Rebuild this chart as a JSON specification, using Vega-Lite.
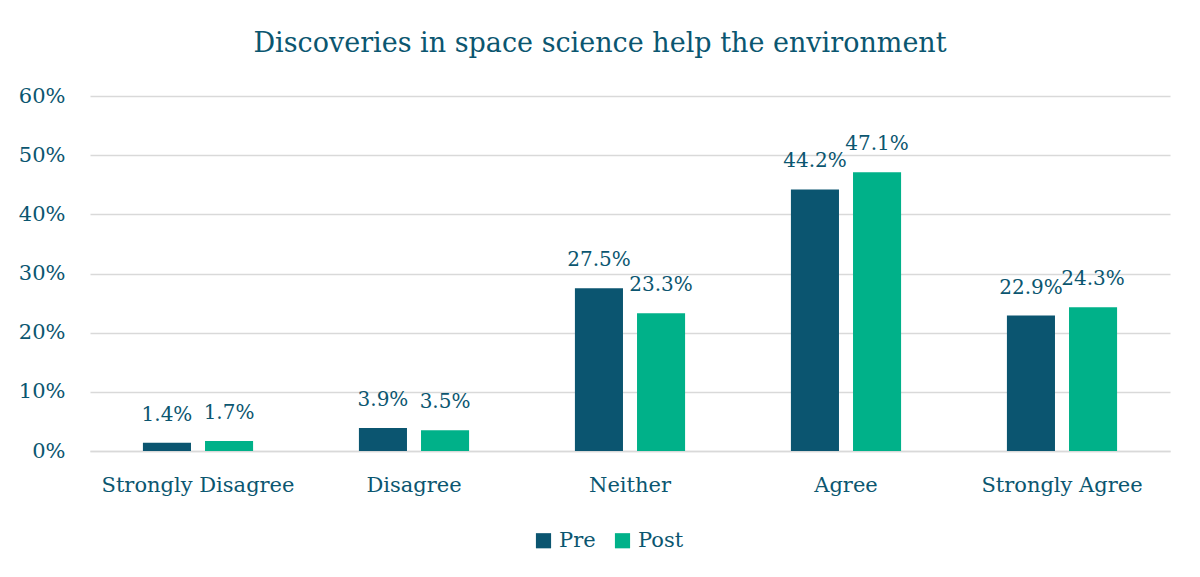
{
  "$schema": "https://vega.github.io/schema/vega-lite/v6.json",
  "width": 1080,
  "height": 355,
  "autosize": {"type": "none"},
  "padding": {"left": 90, "top": 96, "right": 30, "bottom": 126},
  "background": "white",
  "title": {
    "text": "Discoveries in space science help the environment",
    "font": "DejaVu Serif",
    "fontSize": 27,
    "fontWeight": "normal",
    "color": "#0B5670",
    "anchor": "middle",
    "dx": -30,
    "offset": 27
  },
  "data": {
    "values": [
      {"response": "Strongly Disagree", "group": "Pre", "value": 0.014},
      {"response": "Strongly Disagree", "group": "Post", "value": 0.017},
      {"response": "Disagree", "group": "Pre", "value": 0.039},
      {"response": "Disagree", "group": "Post", "value": 0.035},
      {"response": "Neither", "group": "Pre", "value": 0.275},
      {"response": "Neither", "group": "Post", "value": 0.233},
      {"response": "Agree", "group": "Pre", "value": 0.442},
      {"response": "Agree", "group": "Post", "value": 0.471},
      {"response": "Strongly Agree", "group": "Pre", "value": 0.229},
      {"response": "Strongly Agree", "group": "Post", "value": 0.243}
    ]
  },
  "encoding": {
    "x": {
      "field": "response",
      "type": "nominal",
      "sort": ["Strongly Disagree", "Disagree", "Neither", "Agree", "Strongly Agree"],
      "scale": {"paddingInner": 0.49, "paddingOuter": 0.245},
      "axis": {
        "title": null,
        "labelAngle": 0,
        "labelFont": "DejaVu Serif",
        "labelFontSize": 21,
        "labelColor": "#0B5670",
        "labelPadding": 23,
        "labelLimit": 0,
        "ticks": false,
        "domainColor": "#d9d9d9",
        "domainWidth": 1.5
      }
    },
    "xOffset": {
      "field": "group",
      "type": "nominal",
      "sort": ["Pre", "Post"],
      "scale": {"paddingInner": 0.226, "paddingOuter": 0}
    },
    "y": {
      "field": "value",
      "type": "quantitative",
      "scale": {"domain": [0, 0.6]},
      "axis": {
        "title": null,
        "format": ".0%",
        "values": [0, 0.1, 0.2, 0.3, 0.4, 0.5, 0.6],
        "labelFont": "DejaVu Serif",
        "labelFontSize": 21,
        "labelColor": "#0B5670",
        "labelPadding": 25,
        "ticks": false,
        "domain": false,
        "gridColor": "#d9d9d9",
        "gridWidth": 1.5
      }
    },
    "color": {
      "field": "group",
      "type": "nominal",
      "sort": ["Pre", "Post"],
      "scale": {"domain": ["Pre", "Post"], "range": ["#0B5570", "#00B189"]},
      "legend": {
        "title": null,
        "orient": "none",
        "legendX": 443,
        "legendY": 434,
        "direction": "horizontal",
        "symbolType": "square",
        "symbolSize": 230,
        "symbolStrokeWidth": 0,
        "labelFont": "DejaVu Serif",
        "labelFontSize": 21,
        "labelColor": "#0B5670",
        "labelOffset": 5,
        "columnPadding": 16
      }
    }
  },
  "layer": [
    {"mark": {"type": "bar"}},
    {
      "mark": {
        "type": "text",
        "baseline": "bottom",
        "dy": -18,
        "font": "DejaVu Serif",
        "fontSize": 20,
        "color": "#0B5670"
      },
      "encoding": {
        "text": {"field": "value", "type": "quantitative", "format": ".1%"},
        "color": {"value": "#0B5670"}
      }
    }
  ],
  "config": {"view": {"stroke": null}}
}
